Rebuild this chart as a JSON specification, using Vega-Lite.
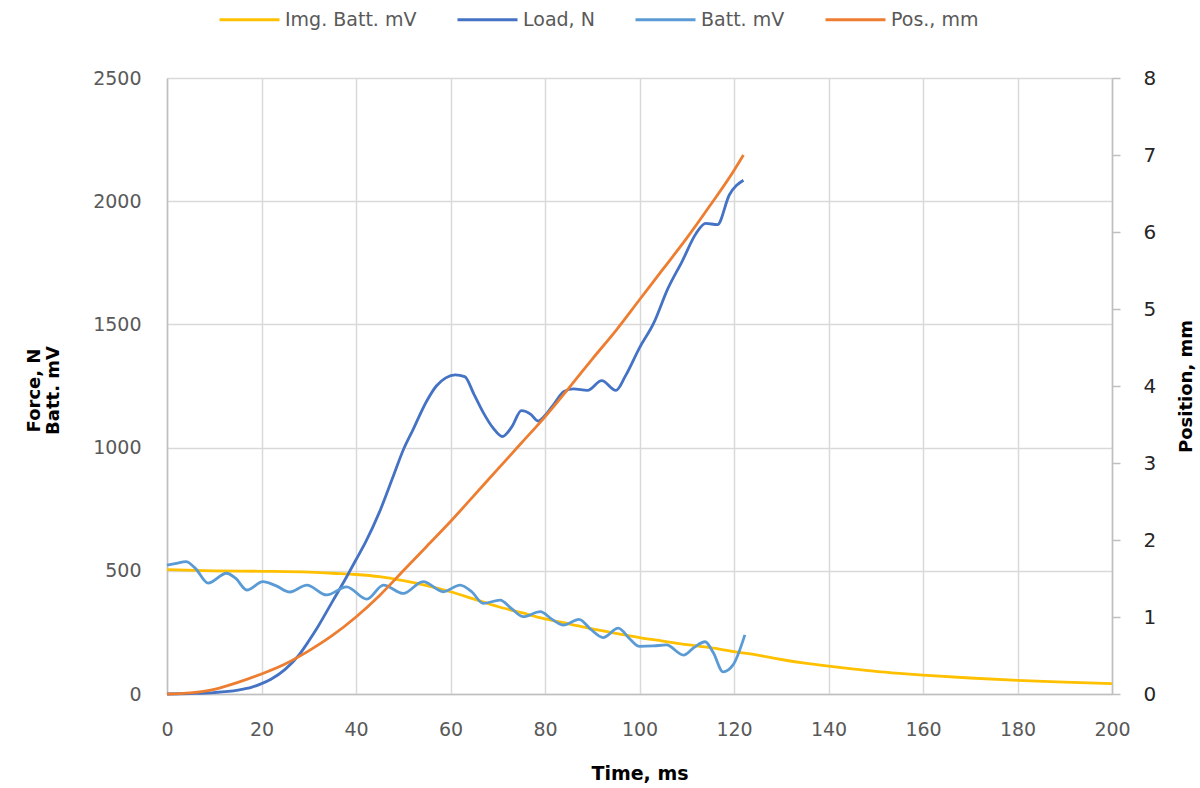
{
  "$schema": "https://vega.github.io/schema/vega-lite/v6.json",
  "width": 945,
  "height": 616,
  "autosize": {"type": "none"},
  "padding": {"left": 167, "top": 78, "right": 88, "bottom": 94},
  "background": "white",
  "config": {
    "view": {"stroke": null},
    "font": "DejaVu Sans"
  },
  "datasets": {
    "left": [
      {"t": 0, "v": 505, "series": "Img. Batt. mV"},
      {"t": 10, "v": 500, "series": "Img. Batt. mV"},
      {"t": 20, "v": 498, "series": "Img. Batt. mV"},
      {"t": 30, "v": 495, "series": "Img. Batt. mV"},
      {"t": 35, "v": 490, "series": "Img. Batt. mV"},
      {"t": 40, "v": 485, "series": "Img. Batt. mV"},
      {"t": 45, "v": 476, "series": "Img. Batt. mV"},
      {"t": 50, "v": 460, "series": "Img. Batt. mV"},
      {"t": 55, "v": 440, "series": "Img. Batt. mV"},
      {"t": 60, "v": 415, "series": "Img. Batt. mV"},
      {"t": 65, "v": 385, "series": "Img. Batt. mV"},
      {"t": 70, "v": 355, "series": "Img. Batt. mV"},
      {"t": 75, "v": 330, "series": "Img. Batt. mV"},
      {"t": 80, "v": 305, "series": "Img. Batt. mV"},
      {"t": 85, "v": 285, "series": "Img. Batt. mV"},
      {"t": 90, "v": 264, "series": "Img. Batt. mV"},
      {"t": 95, "v": 246, "series": "Img. Batt. mV"},
      {"t": 100, "v": 229, "series": "Img. Batt. mV"},
      {"t": 105, "v": 215, "series": "Img. Batt. mV"},
      {"t": 110, "v": 200, "series": "Img. Batt. mV"},
      {"t": 115, "v": 188, "series": "Img. Batt. mV"},
      {"t": 120, "v": 172, "series": "Img. Batt. mV"},
      {"t": 125, "v": 158, "series": "Img. Batt. mV"},
      {"t": 130, "v": 140, "series": "Img. Batt. mV"},
      {"t": 135, "v": 125, "series": "Img. Batt. mV"},
      {"t": 140, "v": 113, "series": "Img. Batt. mV"},
      {"t": 145, "v": 102, "series": "Img. Batt. mV"},
      {"t": 150, "v": 92, "series": "Img. Batt. mV"},
      {"t": 155, "v": 84, "series": "Img. Batt. mV"},
      {"t": 160, "v": 77, "series": "Img. Batt. mV"},
      {"t": 170, "v": 65, "series": "Img. Batt. mV"},
      {"t": 180, "v": 55, "series": "Img. Batt. mV"},
      {"t": 190, "v": 48, "series": "Img. Batt. mV"},
      {"t": 200, "v": 42, "series": "Img. Batt. mV"},

      {"t": 0, "v": 0, "series": "Load, N"},
      {"t": 5, "v": 2, "series": "Load, N"},
      {"t": 10, "v": 6, "series": "Load, N"},
      {"t": 15, "v": 16, "series": "Load, N"},
      {"t": 18, "v": 28, "series": "Load, N"},
      {"t": 20, "v": 42, "series": "Load, N"},
      {"t": 22, "v": 60, "series": "Load, N"},
      {"t": 25, "v": 100, "series": "Load, N"},
      {"t": 28, "v": 160, "series": "Load, N"},
      {"t": 30, "v": 215, "series": "Load, N"},
      {"t": 32, "v": 275, "series": "Load, N"},
      {"t": 35, "v": 375, "series": "Load, N"},
      {"t": 38, "v": 475, "series": "Load, N"},
      {"t": 40, "v": 545, "series": "Load, N"},
      {"t": 42, "v": 615, "series": "Load, N"},
      {"t": 45, "v": 740, "series": "Load, N"},
      {"t": 48, "v": 890, "series": "Load, N"},
      {"t": 50, "v": 990, "series": "Load, N"},
      {"t": 52, "v": 1070, "series": "Load, N"},
      {"t": 55, "v": 1190, "series": "Load, N"},
      {"t": 57, "v": 1250, "series": "Load, N"},
      {"t": 59, "v": 1283, "series": "Load, N"},
      {"t": 61, "v": 1295, "series": "Load, N"},
      {"t": 63, "v": 1288, "series": "Load, N"},
      {"t": 65, "v": 1215, "series": "Load, N"},
      {"t": 67, "v": 1140, "series": "Load, N"},
      {"t": 69, "v": 1080, "series": "Load, N"},
      {"t": 71, "v": 1045, "series": "Load, N"},
      {"t": 73, "v": 1085, "series": "Load, N"},
      {"t": 75, "v": 1150, "series": "Load, N"},
      {"t": 77, "v": 1135, "series": "Load, N"},
      {"t": 78.5, "v": 1108, "series": "Load, N"},
      {"t": 80, "v": 1130, "series": "Load, N"},
      {"t": 82, "v": 1180, "series": "Load, N"},
      {"t": 84, "v": 1228, "series": "Load, N"},
      {"t": 86, "v": 1238, "series": "Load, N"},
      {"t": 89, "v": 1232, "series": "Load, N"},
      {"t": 92, "v": 1272, "series": "Load, N"},
      {"t": 95, "v": 1232, "series": "Load, N"},
      {"t": 97, "v": 1290, "series": "Load, N"},
      {"t": 100, "v": 1405, "series": "Load, N"},
      {"t": 103, "v": 1505, "series": "Load, N"},
      {"t": 106, "v": 1645, "series": "Load, N"},
      {"t": 109, "v": 1755, "series": "Load, N"},
      {"t": 112, "v": 1870, "series": "Load, N"},
      {"t": 114, "v": 1910, "series": "Load, N"},
      {"t": 116.5, "v": 1905, "series": "Load, N"},
      {"t": 119, "v": 2025, "series": "Load, N"},
      {"t": 122, "v": 2085, "series": "Load, N"},

      {"t": 0, "v": 523, "series": "Batt. mV"},
      {"t": 2, "v": 530, "series": "Batt. mV"},
      {"t": 4, "v": 537, "series": "Batt. mV"},
      {"t": 6, "v": 510, "series": "Batt. mV"},
      {"t": 8.7, "v": 450, "series": "Batt. mV"},
      {"t": 12.6, "v": 490, "series": "Batt. mV"},
      {"t": 14.5, "v": 470, "series": "Batt. mV"},
      {"t": 16.9, "v": 422, "series": "Batt. mV"},
      {"t": 20.3, "v": 456, "series": "Batt. mV"},
      {"t": 23, "v": 440, "series": "Batt. mV"},
      {"t": 26, "v": 414, "series": "Batt. mV"},
      {"t": 29.6, "v": 442, "series": "Batt. mV"},
      {"t": 33.8, "v": 402, "series": "Batt. mV"},
      {"t": 38, "v": 435, "series": "Batt. mV"},
      {"t": 42.3, "v": 385, "series": "Batt. mV"},
      {"t": 45.8, "v": 442, "series": "Batt. mV"},
      {"t": 50, "v": 408, "series": "Batt. mV"},
      {"t": 54.2, "v": 456, "series": "Batt. mV"},
      {"t": 58.5, "v": 415, "series": "Batt. mV"},
      {"t": 62, "v": 442, "series": "Batt. mV"},
      {"t": 64.5, "v": 415, "series": "Batt. mV"},
      {"t": 66.9, "v": 368, "series": "Batt. mV"},
      {"t": 70.5, "v": 381, "series": "Batt. mV"},
      {"t": 73, "v": 345, "series": "Batt. mV"},
      {"t": 75.4, "v": 314, "series": "Batt. mV"},
      {"t": 79, "v": 334, "series": "Batt. mV"},
      {"t": 81.5, "v": 303, "series": "Batt. mV"},
      {"t": 83.9, "v": 280, "series": "Batt. mV"},
      {"t": 87.2, "v": 303, "series": "Batt. mV"},
      {"t": 89.7, "v": 262, "series": "Batt. mV"},
      {"t": 92.3, "v": 229, "series": "Batt. mV"},
      {"t": 95.5, "v": 267, "series": "Batt. mV"},
      {"t": 98, "v": 222, "series": "Batt. mV"},
      {"t": 100, "v": 193, "series": "Batt. mV"},
      {"t": 103, "v": 195, "series": "Batt. mV"},
      {"t": 105.7, "v": 199, "series": "Batt. mV"},
      {"t": 109.3, "v": 158, "series": "Batt. mV"},
      {"t": 111.5, "v": 188, "series": "Batt. mV"},
      {"t": 113.9, "v": 212, "series": "Batt. mV"},
      {"t": 115.6, "v": 168, "series": "Batt. mV"},
      {"t": 117.7, "v": 90, "series": "Batt. mV"},
      {"t": 119.8, "v": 118, "series": "Batt. mV"},
      {"t": 122.3, "v": 240, "series": "Batt. mV"}
    ],
    "right": [
      {"t": 0, "p": 0, "series": "Pos., mm"},
      {"t": 5, "p": 0.015, "series": "Pos., mm"},
      {"t": 10, "p": 0.06, "series": "Pos., mm"},
      {"t": 15, "p": 0.15, "series": "Pos., mm"},
      {"t": 20, "p": 0.26, "series": "Pos., mm"},
      {"t": 25, "p": 0.39, "series": "Pos., mm"},
      {"t": 30, "p": 0.56, "series": "Pos., mm"},
      {"t": 35, "p": 0.76, "series": "Pos., mm"},
      {"t": 40, "p": 1.0, "series": "Pos., mm"},
      {"t": 45, "p": 1.28, "series": "Pos., mm"},
      {"t": 50, "p": 1.6, "series": "Pos., mm"},
      {"t": 55, "p": 1.92, "series": "Pos., mm"},
      {"t": 60, "p": 2.24, "series": "Pos., mm"},
      {"t": 65, "p": 2.58, "series": "Pos., mm"},
      {"t": 70, "p": 2.92, "series": "Pos., mm"},
      {"t": 75, "p": 3.26, "series": "Pos., mm"},
      {"t": 80, "p": 3.6, "series": "Pos., mm"},
      {"t": 85, "p": 3.97, "series": "Pos., mm"},
      {"t": 90, "p": 4.35, "series": "Pos., mm"},
      {"t": 95, "p": 4.72, "series": "Pos., mm"},
      {"t": 100, "p": 5.12, "series": "Pos., mm"},
      {"t": 105, "p": 5.52, "series": "Pos., mm"},
      {"t": 110, "p": 5.92, "series": "Pos., mm"},
      {"t": 115, "p": 6.35, "series": "Pos., mm"},
      {"t": 120, "p": 6.8, "series": "Pos., mm"},
      {"t": 122, "p": 7.0, "series": "Pos., mm"}
    ]
  },
  "layer": [
    {
      "data": {"name": "left"},
      "mark": {"type": "line", "interpolate": "monotone", "strokeWidth": 2.8},
      "encoding": {
        "x": {
          "field": "t", "type": "quantitative",
          "scale": {"domain": [0, 200], "nice": false, "zero": false},
          "axis": {
            "values": [0, 20, 40, 60, 80, 100, 120, 140, 160, 180, 200],
            "title": "Time, ms",
            "grid": true, "gridColor": "#D9D9D9", "gridWidth": 1.5,
            "domainColor": "#BFBFBF", "domainWidth": 1.5,
            "ticks": false,
            "labelFlush": false,
            "labelPadding": 26,
            "labelFont": "DejaVu Sans", "labelFontSize": 19, "labelColor": "#595959",
            "titleFont": "DejaVu Sans", "titleFontSize": 19, "titleFontWeight": "bold", "titleColor": "#000000",
            "titleBaseline": "middle", "titleY": 79
          }
        },
        "y": {
          "field": "v", "type": "quantitative",
          "scale": {"domain": [0, 2500], "nice": false},
          "axis": {
            "values": [0, 500, 1000, 1500, 2000, 2500],
            "format": "d",
            "title": ["Force, N", "Batt. mV"],
            "grid": true, "gridColor": "#D9D9D9", "gridWidth": 1.5,
            "domainColor": "#BFBFBF", "domainWidth": 1.5,
            "ticks": false,
            "labelPadding": 26,
            "labelFont": "DejaVu Sans", "labelFontSize": 19, "labelColor": "#595959",
            "titleFont": "DejaVu Sans", "titleFontSize": 18, "titleFontWeight": "bold", "titleColor": "#000000",
            "titleLineHeight": 19,
            "titleBaseline": "middle", "titleX": -133, "titleY": 312, "titleAngle": -90
          }
        },
        "color": {
          "field": "series", "type": "nominal",
          "scale": {
            "domain": ["Img. Batt. mV", "Load, N", "Batt. mV", "Pos., mm"],
            "range": ["#FFC000", "#4472C4", "#5B9BD5", "#ED7D31"]
          },
          "legend": {
            "orient": "none", "direction": "horizontal",
            "legendX": 51, "legendY": -90,
            "title": null,
            "symbolType": "stroke", "symbolSize": 3600, "symbolStrokeWidth": 3,
            "labelFont": "DejaVu Sans", "labelFontSize": 19, "labelColor": "#595959",
            "labelOffset": 4, "columnPadding": 34, "padding": 0
          }
        }
      }
    },
    {
      "data": {"name": "right"},
      "mark": {"type": "line", "interpolate": "monotone", "strokeWidth": 2.8},
      "encoding": {
        "x": {"field": "t", "type": "quantitative", "scale": {"domain": [0, 200], "nice": false, "zero": false}},
        "y": {
          "field": "p", "type": "quantitative",
          "scale": {"domain": [0, 8], "nice": false},
          "axis": {
            "orient": "right",
            "values": [0, 1, 2, 3, 4, 5, 6, 7, 8],
            "title": "Position, mm",
            "grid": false,
            "domainColor": "#BFBFBF", "domainWidth": 1.5,
            "ticks": true, "tickColor": "#BFBFBF", "tickSize": 8, "tickWidth": 1.5,
            "labelPadding": 23,
            "labelFont": "DejaVu Sans", "labelFontSize": 20, "labelColor": "#262626",
            "titleFont": "DejaVu Sans", "titleFontSize": 18, "titleFontWeight": "bold", "titleColor": "#000000",
            "titleBaseline": "middle", "titleX": 74, "titleY": 308, "titleAngle": -90
          }
        },
        "color": {"field": "series", "type": "nominal"}
      }
    }
  ],
  "resolve": {"scale": {"y": "independent"}}
}
